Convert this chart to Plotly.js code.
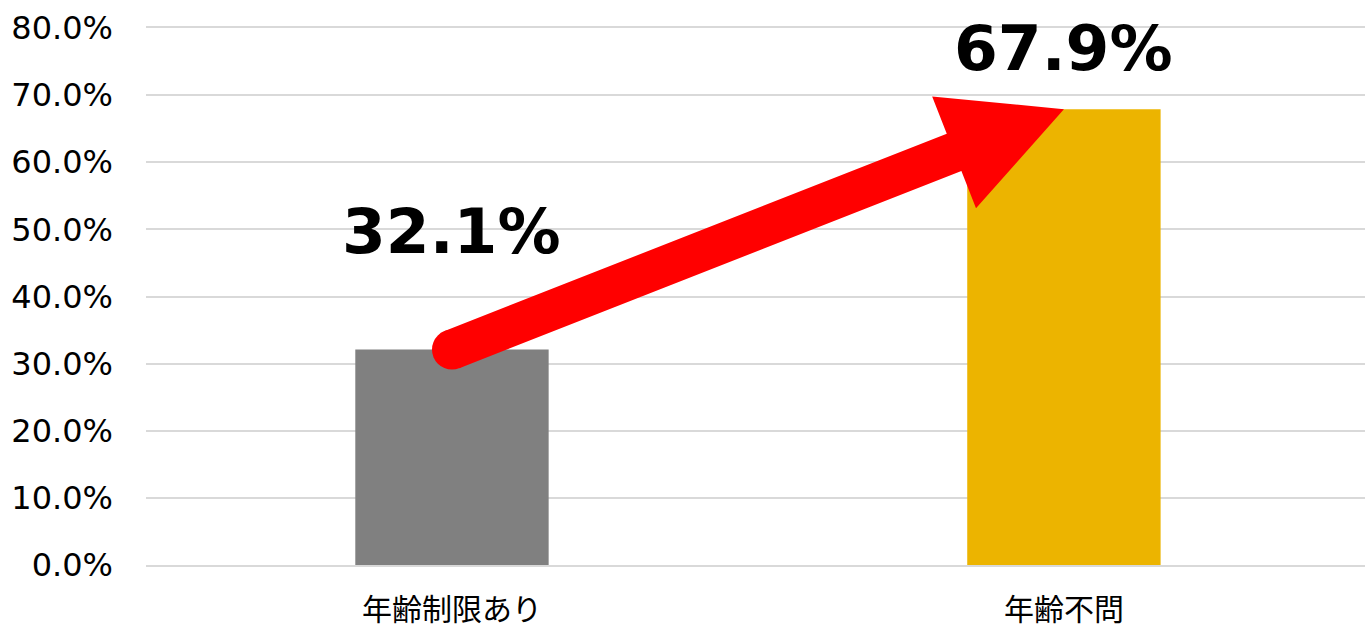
<!DOCTYPE html>
<html>
<head>
<meta charset="utf-8">
<script src="https://cdn.plot.ly/plotly-3.0.1.min.js"></script>
<style>html,body{margin:0;padding:0;background:#fff;overflow:hidden;}#chart{width:1365px;height:628px;}</style>
</head>
<body>
<div id="chart"></div>
<script>
// ---- data ----
const categories = ["年齢制限あり", "年齢不問"];
const values = [0.321, 0.679];
const barColors = ["#808080", "#ECB400"];
const yTickValues = [0, 0.1, 0.2, 0.3, 0.4, 0.5, 0.6, 0.7, 0.8];
const labelY = [0.497, 0.770]; // vertical position of big value labels (data units)

// ---- layout constants ----
const W = 1365, H = 628;
const M = {l: 146, r: 0, t: 28, b: 63};
const yMax = 0.8;
const xRange = [-0.5, 1.492];
const plotW = W - M.l - M.r, plotH = H - M.t - M.b;

const trace = {
  type: "bar",
  x: categories,
  y: values,
  marker: {color: barColors},
  width: 0.316,
  hoverinfo: "skip"
};

// arrow from top-center of bar 0 to top-center of bar 1 (pixel geometry relative to anchor)
const span = xRange[1] - xRange[0];
const ax0 = (0 - xRange[0]) / span, ay0 = values[0] / yMax;
const dxp = plotW / span;
const dyp = (values[1] - values[0]) / yMax * plotH;
const L = Math.hypot(dxp, dyp);
const ux = dxp / L, uy = dyp / L;
const nx = -uy, ny = ux;
const shaftW = 20, headW = 60, headL = 118;
function pt(a, p) { return [(a * ux + p * nx).toFixed(2), (a * uy + p * ny).toFixed(2)]; }
const pts = [
  pt(0, shaftW), pt(L - headL, shaftW), pt(L - headL, headW), pt(L, 0),
  pt(L - headL, -headW), pt(L - headL, -shaftW), pt(0, -shaftW)
];
const pathStr = "M" + pts.map(p => p[0] + "," + p[1]).join(" L") + " Z";

const shapes = [
  {
    type: "path", xref: "paper", yref: "paper",
    xsizemode: "pixel", ysizemode: "pixel",
    xanchor: ax0, yanchor: ay0,
    path: pathStr,
    fillcolor: "#FF0000", line: {width: 0}, layer: "above"
  },
  {
    type: "circle", xref: "paper", yref: "paper",
    xsizemode: "pixel", ysizemode: "pixel",
    xanchor: ax0, yanchor: ay0,
    x0: -shaftW, x1: shaftW, y0: -shaftW, y1: shaftW,
    fillcolor: "#FF0000", line: {width: 0}, layer: "above"
  }
];

const annotations = categories.map((c, i) => ({
  x: c, y: labelY[i], xref: "x", yref: "y",
  text: "<b>" + (values[i] * 100).toFixed(1) + "%</b>",
  showarrow: false,
  font: {family: "DejaVu Sans", size: 63, color: "#000"},
  xanchor: "center", yanchor: "middle"
}));

const layout = {
  width: W, height: H,
  margin: M,
  paper_bgcolor: "#fff", plot_bgcolor: "#fff",
  showlegend: false,
  xaxis: {
    type: "category",
    range: xRange,
    showgrid: false, zeroline: false,
    showline: true, mirror: true, linecolor: "#D9D9D9", linewidth: 2,
    ticks: "",
    tickfont: {family: "Noto Sans CJK JP", size: 30, color: "#000"},
    ticklabelstandoff: 17
  },
  yaxis: {
    range: [0, yMax],
    tickvals: yTickValues,
    tickformat: ".1%",
    showgrid: true, gridcolor: "#D9D9D9", gridwidth: 2,
    zeroline: false, showline: false,
    ticks: "",
    tickfont: {family: "DejaVu Sans", size: 32, color: "#000"},
    ticklabelstandoff: 32
  },
  shapes: shapes,
  annotations: annotations
};

Plotly.newPlot("chart", [trace], layout, {displayModeBar: false, staticPlot: true});
</script>
</body>
</html>
